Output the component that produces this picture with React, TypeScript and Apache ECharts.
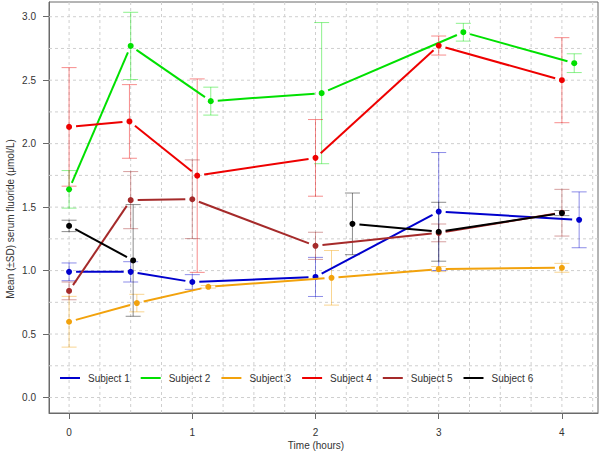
import React, { useEffect, useRef } from "react";
import * as echarts from "echarts";

// ---------- data ----------
const subjectNames = ["Subject 1", "Subject 2", "Subject 3", "Subject 4", "Subject 5", "Subject 6"];
const subjectColors = ["#0000CD", "#00E000", "#F2A20C", "#EE0000", "#A52A2A", "#000000"];

const s1Time = [0, 0.5, 1.0, 2.0, 3.0, 4.14];
const s1Mean = [0.99, 0.99, 0.91, 0.95, 1.465, 1.4];
const s1Sd = [0.07, 0.08, 0.058, 0.154, 0.465, 0.22];

const s2Time = [0, 0.5, 1.15, 2.05, 3.2, 4.1];
const s2Mean = [1.64, 2.77, 2.335, 2.398, 2.878, 2.634];
const s2Sd = [0.148, 0.265, 0.11, 0.556, 0.07, 0.074];

const s3Time = [0, 0.55, 1.13, 2.13, 3.0, 4.0];
const s3Mean = [0.597, 0.744, 0.872, 0.943, 1.012, 1.022];
const s3Sd = [0.2, 0.069, 0.01, 0.215, 0.02, 0.035];

const s4Time = [0, 0.49, 1.04, 2.0, 3.0, 4.0];
const s4Mean = [2.132, 2.175, 1.748, 1.888, 2.773, 2.5];
const s4Sd = [0.467, 0.29, 0.762, 0.302, 0.075, 0.335];

const s5Time = [0, 0.5, 1.0, 2.0, 3.0, 4.0];
const s5Mean = [0.84, 1.555, 1.562, 1.195, 1.297, 1.456];
const s5Sd = [0.07, 0.225, 0.31, 0.107, 0.07, 0.184];

const s6Time = [0, 0.52, 1.0, 2.3, 3.0, 4.0];
const s6Mean: (number | null)[] = [1.352, 1.08, null, 1.368, 1.306, 1.453];
const s6Sd: (number | null)[] = [0.045, 0.44, null, 0.243, 0.232, 0.02];

const xTickValues = [0, 1, 2, 3, 4];
const yTickValues = [0, 0.5, 1, 1.5, 2, 2.5, 3];
const xGridValues = [0, 0.25, 0.5, 0.75, 1, 1.25, 1.5, 1.75, 2, 2.25, 2.5, 2.75, 3, 3.25, 3.5, 3.75, 4, 4.25];
const yGridValues = [0, 0.25, 0.5, 0.75, 1, 1.25, 1.5, 1.75, 2, 2.25, 2.5, 2.75, 3];

const xTitle = "Time (hours)";
const yTitle = "Mean (\u00B1SD) serum fluoride (\u03BCmol/L)";

const subjects = [
  { t: s1Time, m: s1Mean as (number | null)[], s: s1Sd as (number | null)[] },
  { t: s2Time, m: s2Mean as (number | null)[], s: s2Sd as (number | null)[] },
  { t: s3Time, m: s3Mean as (number | null)[], s: s3Sd as (number | null)[] },
  { t: s4Time, m: s4Mean as (number | null)[], s: s4Sd as (number | null)[] },
  { t: s5Time, m: s5Mean as (number | null)[], s: s5Sd as (number | null)[] },
  { t: s6Time, m: s6Mean, s: s6Sd },
];

const FONT = "Liberation Sans, Arial, Helvetica, sans-serif";
const TEXT = "#333333";
const BOX = "#6a6a6a";

function withAlpha(hex: string, a: number) {
  const r = parseInt(hex.slice(1, 3), 16);
  const g = parseInt(hex.slice(3, 5), 16);
  const b = parseInt(hex.slice(5, 7), 16);
  return `rgba(${r},${g},${b},${a})`;
}

export default function App() {
  const ref = useRef<HTMLDivElement>(null);

  useEffect(() => {
    document.body.style.margin = "0";
    if (!ref.current) return;
    const chart = echarts.init(ref.current, null, { renderer: "svg" });

    const series: any[] = [];

    // grid lines (dashed)
    series.push({
      type: "custom",
      silent: true,
      data: xGridValues.map((v) => [v, 0]),
      encode: { x: 0, y: 1 },
      renderItem: (params: any, api: any) => {
        const p = api.coord([api.value(0), 0]);
        const cs = params.coordSys;
        return {
          type: "line",
          shape: { x1: p[0], y1: cs.y, x2: p[0], y2: cs.y + cs.height },
          style: { stroke: "#cfcfcf", lineWidth: 1, lineDash: [3, 3] },
        };
      },
    });
    series.push({
      type: "custom",
      silent: true,
      data: yGridValues.map((v) => [0, v]),
      encode: { x: 0, y: 1 },
      renderItem: (params: any, api: any) => {
        const p = api.coord([0, api.value(1)]);
        const cs = params.coordSys;
        return {
          type: "line",
          shape: { x1: cs.x, y1: p[1], x2: cs.x + cs.width, y2: p[1] },
          style: { stroke: "#cfcfcf", lineWidth: 1, lineDash: [3, 3] },
        };
      },
    });

    // error bars
    subjects.forEach((sub, i) => {
      const rows: number[][] = [];
      sub.t.forEach((t, k) => {
        const m = sub.m[k];
        const s = sub.s[k];
        if (m != null && s != null) rows.push([t, m, s]);
      });
      const col = withAlpha(subjectColors[i], 0.45);
      series.push({
        type: "custom",
        name: subjectNames[i] + " SD",
        silent: true,
        data: rows,
        encode: { x: 0, y: 1 },
        itemStyle: { color: col },
        renderItem: (params: any, api: any) => {
          const x = api.value(0);
          const m = api.value(1);
          const s = api.value(2);
          const top = api.coord([x, m + s]);
          const bot = api.coord([x, m - s]);
          const cap = 7.5;
          const st = { stroke: col, lineWidth: 1 };
          return {
            type: "group",
            children: [
              { type: "line", shape: { x1: top[0], y1: top[1], x2: bot[0], y2: bot[1] }, style: st },
              { type: "line", shape: { x1: top[0] - cap, y1: top[1], x2: top[0] + cap, y2: top[1] }, style: st },
              { type: "line", shape: { x1: bot[0] - cap, y1: bot[1], x2: bot[0] + cap, y2: bot[1] }, style: st },
            ],
          };
        },
      });
    });

    // lines + points (R type "b": gaps around points)
    subjects.forEach((sub, i) => {
      const pts: { x: number; y: number; next: number[] | null }[] = [];
      sub.t.forEach((t, k) => {
        const m = sub.m[k];
        if (m == null) return;
        const nm = k + 1 < sub.t.length ? sub.m[k + 1] : null;
        pts.push({ x: t, y: m, next: nm != null ? [sub.t[k + 1], nm] : null });
      });
      const col = subjectColors[i];
      series.push({
        type: "custom",
        name: subjectNames[i],
        silent: true,
        data: pts.map((p) => [p.x, p.y]),
        encode: { x: 0, y: 1 },
        itemStyle: { color: col },
        renderItem: (params: any, api: any) => {
          const pt = pts[params.dataIndex];
          const p = api.coord([pt.x, pt.y]);
          const children: any[] = [];
          if (pt.next) {
            const q = api.coord(pt.next);
            const dx = q[0] - p[0];
            const dy = q[1] - p[1];
            const len = Math.hypot(dx, dy);
            const gap = 7;
            if (len > 2 * gap) {
              const ux = dx / len;
              const uy = dy / len;
              children.push({
                type: "line",
                shape: { x1: p[0] + ux * gap, y1: p[1] + uy * gap, x2: q[0] - ux * gap, y2: q[1] - uy * gap },
                style: { stroke: col, lineWidth: 2 },
              });
            }
          }
          children.push({ type: "circle", shape: { cx: p[0], cy: p[1], r: 3 }, style: { fill: col } });
          return { type: "group", children };
        },
      });
    });

    const option: any = {
      animation: false,
      backgroundColor: "#ffffff",
      textStyle: { fontFamily: FONT },
      grid: {
        left: 49,
        right: 2,
        top: 2,
        bottom: 39,
        show: true,
        borderColor: BOX,
        borderWidth: 1,
        backgroundColor: "transparent",
      },
      xAxis: {
        type: "value",
        min: -0.163,
        max: 4.293,
        splitLine: { show: false },
        axisLine: { show: true, onZero: false, lineStyle: { color: BOX, width: 1 } },
        axisTick: { show: true, length: 6, lineStyle: { color: BOX }, customValues: xTickValues },
        axisLabel: {
          show: true,
          customValues: xTickValues,
          margin: 14,
          color: TEXT,
          fontSize: 10,
          fontFamily: FONT,
          formatter: (v: number) => String(v),
        },
      },
      yAxis: {
        type: "value",
        min: -0.122,
        max: 3.116,
        splitLine: { show: false },
        axisLine: { show: true, onZero: false, lineStyle: { color: BOX, width: 1 } },
        axisTick: { show: true, length: 6, lineStyle: { color: BOX }, customValues: yTickValues },
        axisLabel: {
          show: true,
          customValues: yTickValues,
          margin: 13,
          color: TEXT,
          fontSize: 10,
          fontFamily: FONT,
          formatter: (v: number) => v.toFixed(1),
        },
      },
      legend: subjectNames.map((n, i) => ({
        data: [{ name: n, icon: "rect" }],
        left: 60 + i * 80.7,
        top: 373,
        itemWidth: 20,
        itemHeight: 2,
        itemGap: 0,
        padding: 0,
        selectedMode: false,
        textStyle: { color: TEXT, fontSize: 10, fontFamily: FONT, padding: [0, 0, 0, 3] },
      })),
      graphic: [
        {
          type: "text",
          x: 316,
          y: 445,
          style: { text: xTitle, align: "center", verticalAlign: "middle", fontSize: 10, fontFamily: FONT, fill: TEXT },
        },
        {
          type: "text",
          x: 10,
          y: 219,
          rotation: Math.PI / 2,
          style: { text: yTitle, align: "center", verticalAlign: "middle", fontSize: 10, fontFamily: FONT, fill: TEXT },
        },
      ],
      series,
    };

    chart.setOption(option);
    return () => chart.dispose();
  }, []);

  return <div ref={ref} style={{ width: 600, height: 452 }} />;
}
